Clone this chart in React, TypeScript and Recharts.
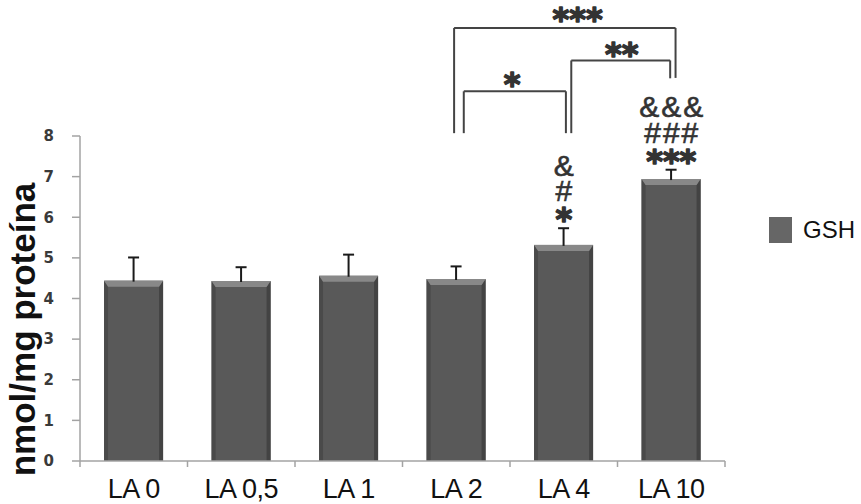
import React from "react";
import { BarChart, Bar, XAxis, YAxis, ReferenceLine, ReferenceDot } from "recharts";

const groups = ["LA 0", "LA 0,5", "LA 1", "LA 2", "LA 4", "LA 10"];
const gshMeans = [4.44, 4.43, 4.56, 4.48, 5.32, 6.94];
const gshErrors = [0.57, 0.34, 0.52, 0.31, 0.41, 0.23];
const yTicks = [0, 1, 2, 3, 4, 5, 6, 7, 8];
const groupEdges = [0, 1, 2, 3, 4, 5, 6];
const yDomain = [0, 8];
const edgeDomain = [0, 6];

// significance marks stacked over single bars
const barMarks = [
  { group: "LA 4", level: 6.06, text: "*" },
  { group: "LA 4", level: 6.67, text: "#" },
  { group: "LA 4", level: 7.29, text: "&" },
  { group: "LA 10", level: 7.48, text: "***" },
  { group: "LA 10", level: 8.08, text: "###" },
  { group: "LA 10", level: 8.74, text: "&&&" },
];

// pairwise brackets; x is in group units on the edge axis (0..6)
const brackets = [
  { text: "*", x1: 3.57, x2: 4.52, top: 9.1, end1: 8.07, end2: 8.07, textX: 4.02, textY: 9.38 },
  { text: "**", x1: 4.57, x2: 5.49, top: 9.86, end1: 8.07, end2: 9.42, textX: 5.04, textY: 10.12 },
  { text: "***", x1: 3.48, x2: 5.54, top: 10.66, end1: 8.07, end2: 9.43, textX: 4.63, textY: 10.97 },
];

const data = groups.map((g, i) => ({
  group: g,
  pos: i + 0.5,
  gsh: gshMeans[i],
  err: gshErrors[i],
}));

const AXIS_GREY = "#a3a3a3";
const LINE_GREY = "#444444";
const EDGE_AXIS = 0;
const GROUP_AXIS = 1;

const groupTickStyle = {
  fontFamily: "Liberation Sans, Arial, sans-serif",
  fontSize: 27,
  fill: "#111111",
  letterSpacing: -0.5,
};
const yTickStyle = { fontFamily: "DejaVu Sans", fontWeight: "bold", fontSize: 15, fill: "#3a3a3a" };
const noTick = () => <g />;

// bevelled bar + upper error whisker (scaled with the bar's own px/unit)
function BevelBar(props: any) {
  const { x, y, width, height, payload } = props;
  if (!height || height <= 0) return null;
  const b = 6;
  const s = 4;
  const pxPerUnit = height / payload.gsh;
  const errTop = y - payload.err * pxPerUnit;
  const mid = x + width / 2;
  return (
    <g>
      <rect x={x} y={y} width={width} height={height} fill="#595959" />
      <polygon
        points={`${x},${y} ${x + s},${y + b} ${x + s},${y + height} ${x},${y + height}`}
        fill="#4a4a4a"
      />
      <polygon
        points={`${x + width},${y} ${x + width - s},${y + b} ${x + width - s},${y + height} ${x + width},${y + height}`}
        fill="#434343"
      />
      <polygon
        points={`${x},${y} ${x + width},${y} ${x + width - s},${y + b} ${x + s},${y + b}`}
        fill="#888888"
      />
      <line x1={mid} y1={y + 1} x2={mid} y2={errTop} stroke="#1a1a1a" strokeWidth={2} />
      <line x1={mid - 5.5} y1={errTop} x2={mid + 5.5} y2={errTop} stroke="#1a1a1a" strokeWidth={2} />
    </g>
  );
}

function MarkText({ cx, cy, text }: { cx: number; cy: number; text: string }) {
  if (text.startsWith("*")) {
    const fs = 32;
    return (
      <text
        x={cx}
        y={cy + 0.46 * fs}
        textAnchor="middle"
        fontFamily="DejaVu Sans"
        fontWeight="bold"
        fontSize={fs}
        fill="#333333"
        stroke="#333333"
        strokeWidth={1.5}
        strokeLinejoin="round"
      >
        {text}
      </text>
    );
  }
  const fs = 30;
  return (
    <text
      x={cx + 1}
      y={cy + 0.358 * fs}
      textAnchor="middle"
      fontFamily="Liberation Sans, Arial, sans-serif"
      fontSize={fs}
      letterSpacing={2}
      fill="#333333"
      stroke="#333333"
      strokeWidth={0.6}
    >
      {text}
    </text>
  );
}

function YTitle(props: any) {
  const vb = props.viewBox || { x: 0, y: 136, width: 80, height: 325 };
  const cx = vb.x + 22;
  const cy = vb.y + vb.height / 2 + 31;
  return (
    <text
      x={cx}
      y={cy}
      transform={`rotate(-90 ${cx} ${cy})`}
      textAnchor="middle"
      dominantBaseline="central"
      fontFamily="Liberation Sans, Arial, sans-serif"
      fontWeight="bold"
      fontSize={35}
      fill="#111111"
    >
      nmol/mg proteína
    </text>
  );
}

const yTitle = <YTitle />;
const barShape = <BevelBar />;

export default function App() {
  return (
    <div style={{ position: "absolute", left: 0, top: 0, width: 861, height: 504, background: "#fff" }}>
      <BarChart
        width={861}
        height={504}
        data={data}
        margin={{ top: 136, right: 136, left: 0, bottom: 0 }}
        barCategoryGap="22.4%"
      >
        <XAxis
          xAxisId={EDGE_AXIS}
          type="number"
          dataKey="pos"
          domain={edgeDomain}
          ticks={groupEdges}
          allowDataOverflow
          tick={noTick}
          tickSize={6}
          height={1}
          stroke={AXIS_GREY}
          strokeWidth={1.5}
        />
        <XAxis
          xAxisId={GROUP_AXIS}
          dataKey="group"
          interval={0}
          axisLine={false}
          tickLine={false}
          tickSize={0}
          tickMargin={17}
          height={42}
          tick={groupTickStyle}
        />
        <YAxis
          domain={yDomain}
          ticks={yTicks}
          interval={0}
          width={80}
          tickSize={8}
          tickMargin={18}
          stroke={AXIS_GREY}
          strokeWidth={1.5}
          tick={yTickStyle}
          label={yTitle}
        />
        <Bar xAxisId={GROUP_AXIS} dataKey="gsh" name="GSH" shape={barShape} isAnimationActive={false} />
        {barMarks.map((m, i) => (
          <ReferenceDot
            key={"m" + i}
            xAxisId={GROUP_AXIS}
            x={m.group}
            y={m.level}
            ifOverflow="visible"
            shape={(p: any) => <MarkText cx={p.cx} cy={p.cy} text={m.text} />}
          />
        ))}
        {brackets.map((b, i) => [
          <ReferenceLine
            key={"l" + i}
            xAxisId={EDGE_AXIS}
            ifOverflow="visible"
            stroke={LINE_GREY}
            strokeWidth={2}
            segment={[{ x: b.x1, y: b.end1 }, { x: b.x1, y: b.top }]}
          />,
          <ReferenceLine
            key={"t" + i}
            xAxisId={EDGE_AXIS}
            ifOverflow="visible"
            stroke={LINE_GREY}
            strokeWidth={2}
            segment={[{ x: b.x1, y: b.top }, { x: b.x2, y: b.top }]}
          />,
          <ReferenceLine
            key={"r" + i}
            xAxisId={EDGE_AXIS}
            ifOverflow="visible"
            stroke={LINE_GREY}
            strokeWidth={2}
            segment={[{ x: b.x2, y: b.top }, { x: b.x2, y: b.end2 }]}
          />,
          <ReferenceDot
            key={"s" + i}
            xAxisId={EDGE_AXIS}
            x={b.textX}
            y={b.textY}
            ifOverflow="visible"
            shape={(p: any) => <MarkText cx={p.cx} cy={p.cy} text={b.text} />}
          />,
        ])}
      </BarChart>
      <div
        style={{
          position: "absolute",
          left: 769,
          top: 216,
          display: "flex",
          alignItems: "center",
          fontFamily: "Liberation Sans, Arial, sans-serif",
          fontSize: 24,
          color: "#111",
        }}
      >
        <span style={{ display: "inline-block", width: 23, height: 26, background: "#666666", marginRight: 11 }} />
        <span>GSH</span>
      </div>
    </div>
  );
}
